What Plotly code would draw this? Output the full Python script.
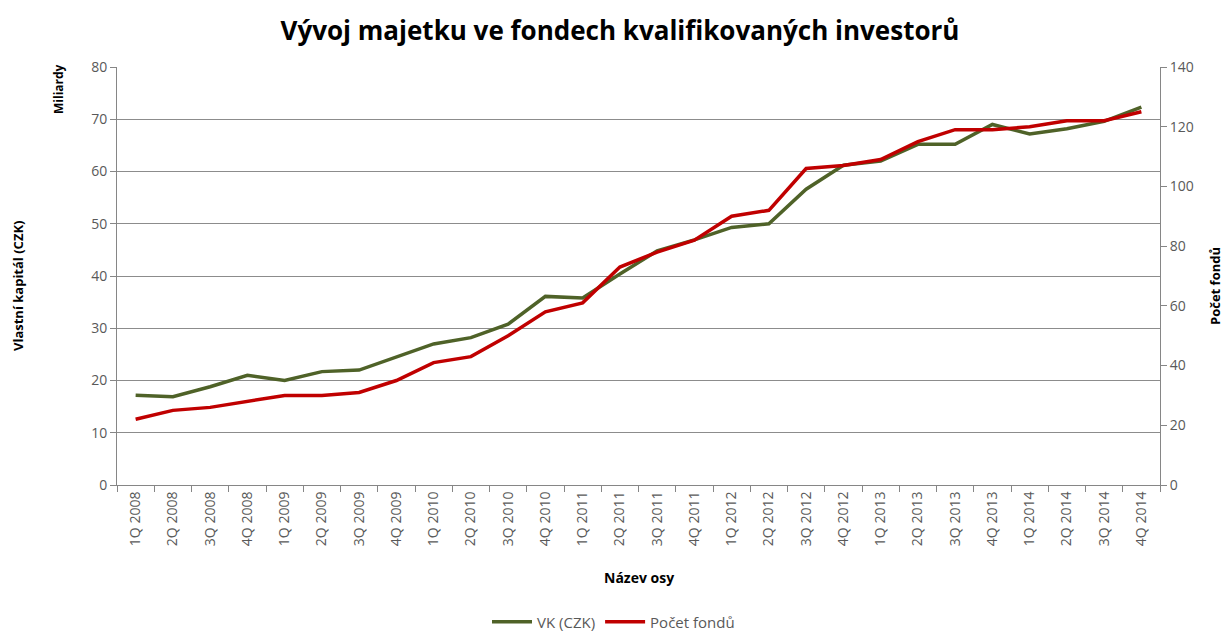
import plotly.graph_objects as go

quarters = ["1Q 2008", "2Q 2008", "3Q 2008", "4Q 2008",
            "1Q 2009", "2Q 2009", "3Q 2009", "4Q 2009",
            "1Q 2010", "2Q 2010", "3Q 2010", "4Q 2010",
            "1Q 2011", "2Q 2011", "3Q 2011", "4Q 2011",
            "1Q 2012", "2Q 2012", "3Q 2012", "4Q 2012",
            "1Q 2013", "2Q 2013", "3Q 2013", "4Q 2013",
            "1Q 2014", "2Q 2014", "3Q 2014", "4Q 2014"]

vk_czk_bn = [17.2, 16.9, 18.8, 21.0, 20.0, 21.7, 22.0, 24.5,
             27.0, 28.2, 30.8, 36.1, 35.8, 40.4, 44.8, 46.9,
             49.3, 50.0, 56.6, 61.2, 62.0, 65.2, 65.2, 69.0,
             67.2, 68.2, 69.6, 72.3]

pocet_fondu = [22, 25, 26, 28, 30, 30, 31, 35,
               41, 43, 50, 58, 61, 73, 78, 82,
               90, 92, 106, 107, 109, 115, 119, 119,
               120, 122, 122, 125]

GREEN = "#4f6228"
RED = "#c00000"
FONT = "Open Sans"
TXT = "#595959"
OFF = 8  # page body margin in the browser
W, H = 1232 - OFF, 631 - OFF
L, T = 117 - OFF, 67 - OFF
R = W - (1160 - OFF)
B = H - (485 - OFF)
PW, PH = W - L - R, H - T - B


def px_x(px):
    return (px - OFF - L) / PW


def px_y(py):
    return (H - B - (py - OFF)) / PH


fig = go.Figure()
fig.add_trace(go.Scatter(x=quarters, y=vk_czk_bn, name="VK (CZK)", mode="lines",
                         line=dict(color=GREEN, width=3.5), yaxis="y"))
fig.add_trace(go.Scatter(x=quarters, y=pocet_fondu, name="Počet fondů", mode="lines",
                         line=dict(color=RED, width=3.5), yaxis="y2"))

axis_title_font = dict(size=13, color="#000000", family=FONT)

fig.update_layout(
    width=W, height=H,
    margin=dict(l=L, r=R, t=T, b=B, autoexpand=False),
    paper_bgcolor="white", plot_bgcolor="white",
    font=dict(family=FONT, color=TXT, size=13),
    title=dict(text="<b>Vývoj majetku ve fondech kvalifikovaných investorů</b>",
               x=0.5, xanchor="center", y=1 - (31 - OFF) / H, yanchor="middle",
               font=dict(size=26, color="#000000", family=FONT)),
    xaxis=dict(type="category", tickangle=-90, showgrid=False, automargin=False,
               range=[-0.5, len(quarters) - 0.5],
               showline=True, linecolor="#868686", linewidth=1,
               ticks="outside", tickson="boundaries", ticklen=6, tickcolor="#868686",
               tickfont=dict(size=14, color=TXT)),
    yaxis=dict(range=[0, 80], dtick=10, showgrid=True, gridcolor="#8c8c8c", gridwidth=1,
               showline=True, linecolor="#868686", ticks="outside", ticklen=6, tickcolor="#868686",
               zeroline=False, automargin=False, tickfont=dict(size=14, color=TXT)),
    yaxis2=dict(range=[0, 140], dtick=20, overlaying="y", side="right", showgrid=False,
                showline=True, linecolor="#868686", ticks="outside", ticklen=6, tickcolor="#868686",
                zeroline=False, automargin=False, tickfont=dict(size=14, color=TXT)),
    legend=dict(orientation="h", x=px_x(487), xanchor="left", y=px_y(622), yanchor="middle",
                font=dict(size=15, color=TXT), itemwidth=40),
    annotations=[
        dict(text="<b>Miliardy</b>", textangle=-90, x=px_x(58), y=px_y(62),
             xref="paper", yref="paper", xanchor="center", yanchor="top",
             showarrow=False, font=dict(size=12, color="#000000")),
        dict(text="<b>Vlastní kapitál (CZK)</b>", textangle=-90, x=px_x(18), y=px_y(286),
             xref="paper", yref="paper", xanchor="center", yanchor="middle",
             showarrow=False, font=axis_title_font),
        dict(text="<b>Počet fondů</b>", textangle=-90, x=px_x(1215), y=px_y(286),
             xref="paper", yref="paper", xanchor="center", yanchor="middle",
             showarrow=False, font=axis_title_font),
        dict(text="<b>Název osy</b>", x=0.5, y=px_y(577),
             xref="paper", yref="paper", xanchor="center", yanchor="middle",
             showarrow=False, font=dict(size=14, color="#000000", family=FONT)),
    ],
)

fig.write_html("out.html")
